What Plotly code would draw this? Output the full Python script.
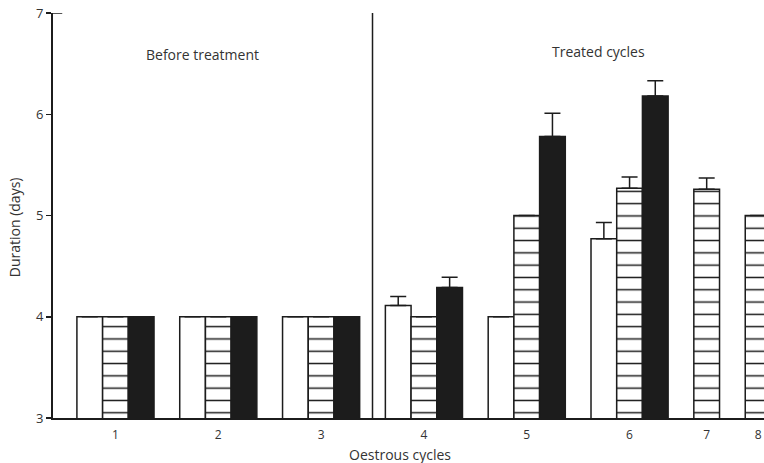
import plotly.graph_objects as go

# ---- data ----
cycles = ["1", "2", "3", "4", "5", "6", "7", "8"]
open_vals = [4.0, 4.0, 4.0, 4.11, 4.0, 4.77, None, None]
hatched_vals = [4.0, 4.0, 4.0, 4.0, 5.0, 5.27, 5.26, 5.0]
solid_vals = [4.0, 4.0, 4.0, 4.29, 5.78, 6.18, None, None]
open_err = [None, None, None, 0.09, None, 0.16, None, None]
hatched_err = [None, None, None, None, None, 0.11, 0.11, None]
solid_err = [None, None, None, 0.10, 0.23, 0.15, None, None]
y_ticks = [3, 4, 5, 6, 7]
period_labels = ["Before treatment", "Treated cycles"]
n_before = 3  # cycles before treatment

# ---- layout of groups: bars of width 1, one empty slot between groups ----
series = [open_vals, hatched_vals, solid_vals]
centers = []
cursor = -1.5
for i in range(len(cycles)):
    n = sum(1 for s in series if s[i] is not None)
    start = cursor
    end = cursor + n
    centers.append((start + end) / 2)
    cursor = end + 1
offsets = [-1, 0, 1]

INK = "#1c1c1c"
TXT = "#333333"
FONT = "Open Sans"

fig = go.Figure()

def add_series(vals, errs, off, color, pattern=None):
    xs, ys, es = [], [], []
    for i, v in enumerate(vals):
        if v is None:
            continue
        xs.append(centers[i] + off)
        ys.append(v)
        es.append(errs[i])
    marker = dict(color=color, line=dict(color=INK, width=1.5))
    if pattern:
        marker["pattern"] = pattern
    fig.add_trace(go.Bar(
        x=xs, y=ys, width=1, marker=marker,
        error_y=dict(type="data", symmetric=False, array=es,
                     arrayminus=[0] * len(es), color=INK,
                     thickness=1.5, width=8),
        showlegend=False, hoverinfo="skip"))

add_series(open_vals, open_err, offsets[0], "white")
add_series(hatched_vals, hatched_err, offsets[1], "white",
           dict(shape="-", size=12.3, solidity=0.12, fgcolor="#1a1a1a",
                fgopacity=1, fillmode="overlay"))
add_series(solid_vals, solid_err, offsets[2], INK)

x_lo = -2.43
x_hi = 25.23
divider = (centers[n_before - 1] + 1.5 + centers[n_before] - 1.5) / 2

fig.add_shape(type="line", x0=divider, x1=divider, y0=3, y1=7.03,
              xref="x", yref="y", line=dict(color=INK, width=1.5))
fig.add_shape(type="line", x0=0, x1=0.013, y0=7, y1=7,
              xref="paper", yref="y", line=dict(color=INK, width=1.5))

fig.add_annotation(x=3.4, y=6.59, xref="x", yref="y", text=period_labels[0],
                   xanchor="center", yanchor="middle",
                   showarrow=False, font=dict(family=FONT, size=14, color=TXT))
fig.add_annotation(x=18.8, y=6.62, xref="x", yref="y", text=period_labels[1],
                   xanchor="center", yanchor="middle",
                   showarrow=False, font=dict(family=FONT, size=14, color=TXT))
fig.add_annotation(x=-0.054, y=0.47, xref="paper", yref="paper",
                   xanchor="center", yanchor="middle",
                   text="Duration (days)", textangle=-90, showarrow=False,
                   font=dict(family=FONT, size=14, color=TXT))
fig.add_annotation(x=0.488, y=-0.09, xref="paper", yref="paper",
                   xanchor="center", yanchor="middle",
                   text="Oestrous cycles", showarrow=False,
                   font=dict(family=FONT, size=14, color=TXT))

fig.update_layout(
    width=764, height=463,
    margin=dict(l=53, r=0, t=13, b=45),
    paper_bgcolor="white", plot_bgcolor="white",
    barmode="overlay", bargap=0,
    font=dict(family=FONT, size=12, color=TXT),
    xaxis=dict(range=[x_lo, x_hi], tickmode="array", tickvals=centers,
               ticktext=cycles, showline=True, linecolor=INK, linewidth=2,
               ticks="", showgrid=False, zeroline=False, automargin=False,
               ticklabeloverflow="allow", ticklabelstandoff=5,
               tickfont=dict(family=FONT, size=12, color=TXT)),
    yaxis=dict(range=[3, 7], tickmode="array", tickvals=y_ticks,
               showline=True, linecolor=INK, linewidth=2,
               ticks="outside", ticklen=5, tickcolor=INK, tickwidth=1.5,
               showgrid=False, zeroline=False, automargin=False,
               ticklabeloverflow="allow",
               tickfont=dict(family=FONT, size=13, color=TXT)),
)

# remove the page body's default margin so the figure fills the window
fig.write_html(
    "out.html",
    config={"displayModeBar": False, "staticPlot": True},
    post_script=("document.body.style.margin='0';"
                 "document.body.style.overflow='hidden';"
                 "document.documentElement.style.overflow='hidden';"),
)
